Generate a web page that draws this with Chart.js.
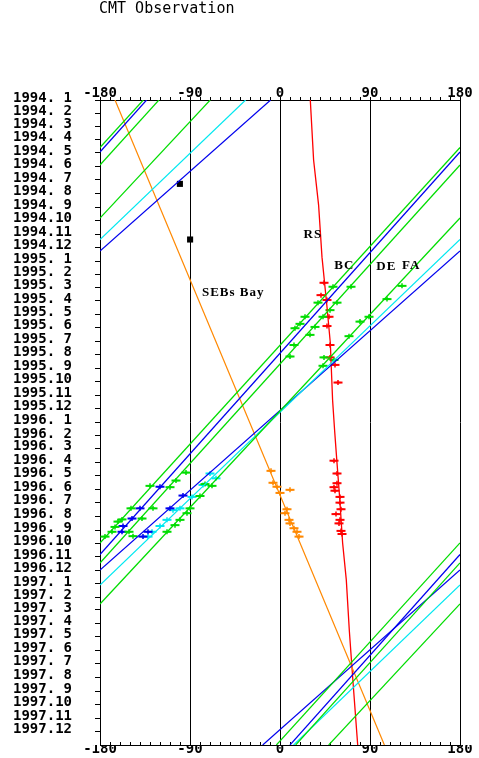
<!DOCTYPE html>
<html>
<head>
<meta charset="utf-8">
<title>CMT Observation</title>
<script src="https://cdn.jsdelivr.net/npm/chart.js@4.4.1/dist/chart.umd.min.js"></script>
<style>
  body { margin: 0; background: #fff; }
  #wrap { width: 479px; height: 758px; }
</style>
</head>
<body>
<div id="wrap"><canvas id="myChart" width="479" height="758"></canvas></div>
<script>
// y = days counted from 1994-01-01, x = longitude (deg)
var years = [1994, 1995, 1996, 1997];
var lonLabels = [-180, -90, 0, 90, 180];

// drift tracks, pieces split where they wrap at +-180: [day1, lon1, day2, lon2]
var trackA = [[0, -136.7, 107.6, -180], [107.6, 180, 1003.4, -180], [1003.4, 180, 1461, -3.6]];
var trackB = [[0, -133.4, 117.8, -180], [117.8, 180, 1029.5, -180], [1029.5, 180, 1461, 10.0]];
var trackC = [[0, -121.1, 147.2, -180], [147.2, 180, 1048.7, -180], [1048.7, 180, 1461, 15.7]];
var trackD = [[0, -69.8, 267.3, -180], [267.3, 180, 1141.6, -180], [1141.6, 180, 1461, 48.7]];
var trackE = [[0, -34.4, 316.0, -180], [316.0, 180, 1098.6, -180], [1098.6, 180, 1461, 13.6]];
var trackF = [[0, -9.4, 342.0, -180], [342.0, 180, 1064.6, -180], [1064.6, 180, 1461, -17.3]];
var bayTrack = [[0, -165, 1461, 104.4]];

// red spot path [day, lon]
var rsPath = [[0, 30.3], [136, 33.6], [238, 38.6], [356, 42.0], [469, 47.0], [550, 50.3],
  [680, 52.6], [748, 54.6], [822, 57.0], [899, 59.6], [1003, 62.6], [1087, 66.3],
  [1201, 69.3], [1321, 73.1], [1461, 77.7]];

// observations [day, lon]
var greenObs = [[421, 122], [451, 107], [423, 71], [423, 53], [459, 57], [459, 38], [476, 50],
  [491, 25], [491, 43], [517, 15], [507, 20], [514, 35], [532, 30], [535, 69], [502, 80],
  [491, 89], [555, 14], [581, 10], [583, 44], [602, 43], [589, 54],
  [844, -94], [874, -130], [877, -110], [862, -104], [925, -149], [925, -127], [950, -158],
  [955, -162], [948, -138], [989, -175], [978, -168], [967, -165], [978, -151], [988, -147],
  [978, -113], [963, -105], [951, -100], [936, -93], [925, -90], [897, -80], [870, -75], [874, -68]];
var blueObs = [[876, -120], [925, -140], [948, -148], [965, -157], [978, -158], [989, -137],
  [978, -132], [925, -110], [896, -97]];
var cyanObs = [[846, -70], [857, -64], [872, -77], [899, -88], [925, -100], [929, -107],
  [951, -113], [965, -120], [978, -128], [989, -132]];
var orangeObs = [[840, -9], [867, -7], [876, -3], [890, 0], [883, 10], [927, 7], [936, 5],
  [951, 9], [959, 10], [970, 14], [978, 17], [989, 19]];
var redObs = [[414, 44], [442, 41], [491, 49], [453, 47], [512, 47], [555, 50], [583, 50],
  [600, 55], [640, 58],
  [817, 54], [846, 57], [868, 57], [877, 54], [885, 55], [899, 60], [912, 60], [927, 61],
  [938, 56], [951, 60], [959, 59], [976, 61], [983, 62]];
var blackMarks = [[190, -100.1], [316, -89.9]];

// feature names
var noteText = ['RS', 'BC', 'DE', 'FA', 'SEBs Bay'];
var noteLon = [23.6, 54.3, 96.3, 122, -78.1];
var noteDay = [306, 376, 378, 376, 437];

var monthDays = [], monthLabels = [];
years.forEach(function (yr) {
  for (var m = 1; m <= 12; m++) {
    monthDays.push((Date.UTC(yr, m - 1, 1) - Date.UTC(1994, 0, 1)) / 86400000);
    monthLabels.push(yr + '.' + (m < 10 ? ' ' + m : m));
  }
});
var lastDay = (Date.UTC(1998, 0, 1) - Date.UTC(1994, 0, 1)) / 86400000;

var datasets = [];
function addTrack(pieces, color) {
  pieces.forEach(function (p) {
    datasets.push({
      data: [{x: p[1], y: p[0]}, {x: p[3], y: p[2]}],
      showLine: true, borderColor: color, borderWidth: 1.2, pointRadius: 0
    });
  });
}
function addObs(list, color) {
  var pts = list.map(function (o) { return {x: o[1], y: o[0]}; });
  // long horizontal bar plus a short cross on it
  datasets.push({
    data: pts, showLine: false, pointStyle: 'line', pointRadius: 4.5,
    borderColor: color, borderWidth: 2
  });
  datasets.push({
    data: pts, showLine: false, pointStyle: 'cross', pointRadius: 2.5,
    borderColor: color, borderWidth: 1.5
  });
}

addTrack(trackA, '#00dd00');
addTrack(trackB, '#0000ee');
addTrack(trackC, '#00dd00');
addTrack(trackD, '#00dd00');
addTrack(trackE, '#00e8f0');
addTrack(trackF, '#0000ee');
addTrack(bayTrack, '#ff8800');
datasets.push({
  data: rsPath.map(function (o) { return {x: o[1], y: o[0]}; }),
  showLine: true, borderColor: '#ff0000', borderWidth: 1.3, pointRadius: 0
});
addObs(greenObs, '#00dd00');
addObs(blueObs, '#0000ee');
addObs(cyanObs, '#00e8f0');
addObs(orangeObs, '#ff8800');
addObs(redObs, '#ff0000');
datasets.push({
  data: blackMarks.map(function (o) { return {x: o[1], y: o[0]}; }),
  showLine: false, pointStyle: 'rect', pointRadius: 4.3,
  backgroundColor: '#000', borderColor: '#000', borderWidth: 0
});

var tickFont = {family: '"DejaVu Sans Mono"', size: 14, weight: 'bold', lineHeight: 1.2};

function lonTicks(scale) {
  var t = [];
  for (var v = -180; v <= 180; v += 10) t.push({value: v});
  scale.ticks = t;
}
function lonLabel(v) {
  return lonLabels.indexOf(v) >= 0 ? String(v) : '';
}
function gridColor(ctx) {
  return (ctx.tick && lonLabels.indexOf(ctx.tick.value) >= 0) ? '#000' : 'rgba(0,0,0,0)';
}

var extras = {
  id: 'extras',
  afterDraw: function (chart) {
    var ctx = chart.ctx;
    var xs = chart.scales.x, ys = chart.scales.y;
    ctx.save();
    ctx.fillStyle = '#000';
    ctx.font = '15px "DejaVu Sans Mono"';
    ctx.textBaseline = 'alphabetic';
    ctx.fillText('CMT Observation', 99, 12.5);
    ctx.font = 'bold 13px "Liberation Serif"';
    ctx.letterSpacing = '1px';
    ctx.textBaseline = 'middle';
    for (var i = 0; i < noteText.length; i++) {
      ctx.fillText(noteText[i], xs.getPixelForValue(noteLon[i]), ys.getPixelForValue(noteDay[i]));
    }
    ctx.restore();
  }
};

new Chart(document.getElementById('myChart'), {
  type: 'scatter',
  data: {datasets: datasets},
  plugins: [extras],
  options: {
    responsive: false,
    animation: false,
    devicePixelRatio: 1,
    layout: {padding: {left: 0, right: 19, top: 0, bottom: 0}},
    plugins: {legend: {display: false}, tooltip: {enabled: false}, title: {display: false}},
    scales: {
      x: {
        type: 'linear', position: 'bottom', min: -180, max: 180,
        afterBuildTicks: lonTicks,
        afterFit: function (s) { s.height = 13; },
        grid: {color: gridColor, tickColor: '#000', tickLength: -3, lineWidth: 1},
        border: {color: '#000'},
        ticks: {callback: lonLabel, autoSkip: false, maxRotation: 0, minRotation: 0,
          padding: -1.4, font: tickFont, color: '#000'}
      },
      x2: {
        type: 'linear', position: 'top', min: -180, max: 180,
        afterBuildTicks: lonTicks,
        afterFit: function (s) { s.height = 100; },
        grid: {drawOnChartArea: false, tickColor: '#000', tickLength: 3},
        border: {color: '#000'},
        ticks: {callback: lonLabel, autoSkip: false, maxRotation: 0, minRotation: 0,
          padding: -4.5, font: tickFont, color: '#000'}
      },
      y: {
        type: 'linear', reverse: true, min: 0, max: lastDay,
        afterBuildTicks: function (s) {
          s.ticks = monthDays.map(function (v) { return {value: v}; });
        },
        afterFit: function (s) {
          s.width = 100;
          s.paddingTop = 8;
          s.paddingBottom = 8;
        },
        grid: {drawOnChartArea: false, tickColor: '#000', tickLength: 5},
        border: {color: '#000'},
        ticks: {callback: function (v, i) { return monthLabels[i]; }, autoSkip: false,
          padding: 23, labelOffset: -2, font: tickFont, color: '#000'}
      }
    }
  }
});
</script>
</body>
</html>
